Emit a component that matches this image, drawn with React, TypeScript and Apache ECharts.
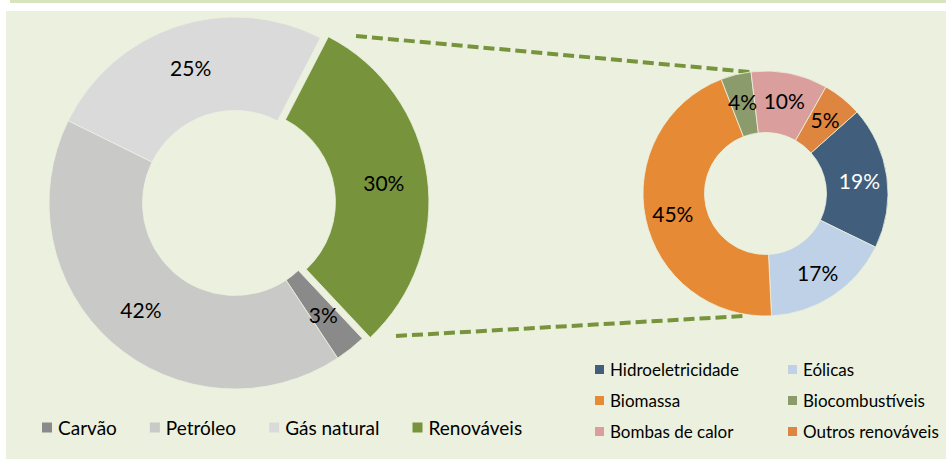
import React, { useEffect, useRef } from "react";
import * as echarts from "echarts";

const mainNames = ["Carvão", "Petróleo", "Gás natural", "Renováveis"];
const mainValues = [2.7, 41.6, 25.3, 30.4];
const mainColors = ["#8A8A8A", "#C9C9C7", "#DADADA", "#77933C"];

const renNames = ["Hidroeletricidade", "Eólicas", "Biomassa", "Biocombustíveis", "Bombas de calor", "Outros renováveis"];
const renValues = [18.8, 17.0, 44.9, 4.0, 10.1, 5.2];
const renColors = ["#415E7C", "#BED1E6", "#E68A36", "#8C9B6C", "#DA9E9C", "#DE853F"];
const renLabelColors = ["#FFFFFF", "#000000", "#000000", "#000000", "#000000", "#000000"];

const FONT = "Lato, 'Open Sans', sans-serif";
const PANEL = "#EBF1DE";

export default function App() {
  const ref = useRef<HTMLDivElement>(null);
  useEffect(() => {
    if (!ref.current) return;
    const chart = echarts.init(ref.current, undefined, { renderer: "svg" });
    const pct = (p: any) => Math.round(p.value) + "%";
    chart.setOption({
      animation: false,
      backgroundColor: "transparent",
      textStyle: { fontFamily: FONT },
      legend: [
        {
          data: mainNames,
          left: 40,
          top: 418,
          padding: 0,
          icon: "rect",
          itemWidth: 12,
          itemHeight: 12,
          itemGap: 31,
          selectedMode: false,
          textStyle: { fontSize: 19, color: "#000", fontFamily: FONT },
        },
        {
          data: [renNames[0], renNames[2], renNames[4]],
          orient: "vertical",
          left: 593,
          top: 361,
          padding: 0,
          icon: "rect",
          itemWidth: 11,
          itemHeight: 11,
          itemGap: 14,
          selectedMode: false,
          textStyle: { fontSize: 17, color: "#000", fontFamily: FONT },
        },
        {
          data: [renNames[1], renNames[3], renNames[5]],
          orient: "vertical",
          left: 786,
          top: 361,
          padding: 0,
          icon: "rect",
          itemWidth: 11,
          itemHeight: 11,
          itemGap: 14,
          selectedMode: false,
          textStyle: { fontSize: 17, color: "#000", fontFamily: FONT },
        },
      ],
      graphic: [
        {
          type: "line",
          shape: { x1: 356, y1: 36, x2: 750, y2: 72 },
          style: { stroke: "#77933C", lineWidth: 4, lineDash: [11, 5] },
          silent: true,
        },
        {
          type: "line",
          shape: { x1: 396, y1: 336, x2: 744, y2: 316 },
          style: { stroke: "#77933C", lineWidth: 4, lineDash: [11, 5] },
          silent: true,
        },
      ],
      series: [
        {
          type: "pie",
          center: [235, 203],
          radius: [92.5, 186],
          startAngle: 90 - 136.8,
          clockwise: true,
          selectedMode: "single",
          selectedOffset: 8,
          avoidLabelOverlap: false,
          emphasis: { disabled: true },
          itemStyle: { borderColor: PANEL, borderWidth: 0.8 },
          label: {
            show: true,
            position: "inside",
            rotate: 0,
            formatter: pct,
            fontSize: 21,
            fontFamily: FONT,
            color: "#000",
          },
          labelLine: { show: false },
          data: mainNames.map((n, i) => ({
            name: n,
            value: mainValues[i],
            selected: i === 3,
            itemStyle: { color: mainColors[i] },
          })),
        },
        {
          type: "pie",
          center: [765.5, 193.5],
          radius: [61, 122.5],
          startAngle: 90 - 48.3,
          clockwise: true,
          avoidLabelOverlap: false,
          emphasis: { disabled: true },
          itemStyle: { borderColor: PANEL, borderWidth: 0.8 },
          label: {
            show: true,
            position: "inside",
            rotate: 0,
            formatter: pct,
            fontSize: 21,
            fontFamily: FONT,
          },
          labelLine: { show: false },
          data: renNames.map((n, i) => ({
            name: n,
            value: renValues[i],
            itemStyle: { color: renColors[i] },
            label: { color: renLabelColors[i] },
          })),
        },
      ],
    });
    return () => chart.dispose();
  }, []);

  return (
    <div style={{ position: "fixed", left: 0, top: 0, width: 946, height: 459, background: "#FFFFFF", overflow: "hidden" }}>
      <div style={{ position: "absolute", left: 10, top: 0, width: 936, height: 3, background: "#D7E4BD" }} />
      <div style={{ position: "absolute", left: 6, top: 11, width: 940, height: 448, background: PANEL }} />
      <div ref={ref} style={{ position: "absolute", left: 0, top: 0, width: 946, height: 459 }} />
    </div>
  );
}
